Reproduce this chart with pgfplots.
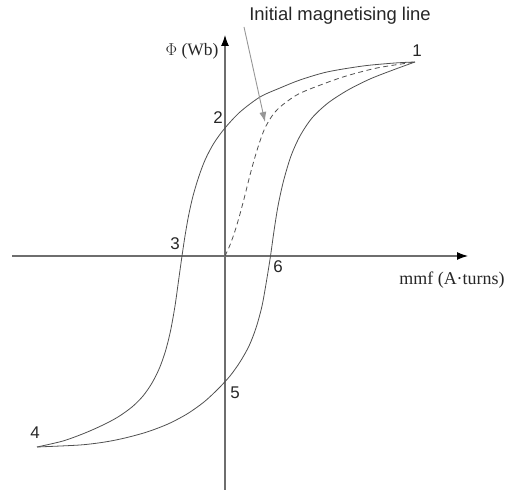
\documentclass[border=0pt]{standalone}
\usepackage{pgfplots}
\pgfplotsset{compat=1.18}
\usepackage{fontspec}
\setmainfont{Liberation Serif}
\newfontfamily\labelfont{Liberation Sans}
\usetikzlibrary{arrows.meta}

\definecolor{axisgray}{RGB}{110,110,110}
\definecolor{curvegray}{RGB}{80,80,80}
\definecolor{notegray}{RGB}{150,150,150}

\begin{document}
\begin{tikzpicture}
\begin{axis}[
  scale only axis,
  width=512bp, height=490bp,
  xmin=-225, xmax=287, ymin=-234, ymax=256,
  hide axis, clip=false,
]
% invisible frame fixing the picture size
\path (rel axis cs:0,0) rectangle (rel axis cs:1,1);

% coordinate axes
\addplot[axisgray, line width=1.1bp, -{Latex[length=11bp,width=8bp,color=black]}]
  coordinates {(-213,0) (243,0)};
\addplot[axisgray, line width=1.1bp, -{Latex[length=11bp,width=8bp,color=black]}]
  coordinates {(0,-234) (0,221)};

% descending branch 1 -> 2 -> 3 -> 4
\addplot[curvegray, line width=0.8bp, smooth, tension=0.5] coordinates {
  (190,194) (170,193) (138,190) (102,184) (75,176) (55,168) (35,159)
  (15,144) (0,128) (-11,113) (-19.5,97) (-26,80) (-32,60) (-36.5,40)
  (-40,20) (-43,0) (-46.5,-25) (-50,-50) (-54.5,-75) (-59.5,-95)
  (-65.5,-112) (-73,-127) (-82,-140) (-93,-151) (-107,-161) (-122,-169)
  (-140,-177) (-162,-185) (-188,-191)
};

% ascending branch 4 -> 5 -> 6 -> 1
\addplot[curvegray, line width=0.8bp, smooth, tension=0.5] coordinates {
  (-188,-191) (-145,-189) (-120,-186) (-100,-182) (-78,-176) (-57,-168)
  (-38,-158) (-21,-146) (-7,-133) (5,-120) (15,-106) (24,-90) (31,-72)
  (37,-50) (41.5,-25) (45.5,0) (49,25) (53,50) (58.5,75) (66,100)
  (75,120) (87,138) (103,153) (123,166) (145,177) (168,186) (190,194)
};

% initial magnetising curve
\addplot[curvegray, line width=0.8bp, dash pattern=on 5bp off 3.5bp, smooth, tension=0.5] coordinates {
  (0,0) (5,11) (10,25) (15,42) (20,61) (25,81) (30,99) (35,115) (40,128)
  (47,140) (55,149) (70,160) (85,167) (118,179) (152,188) (190,194)
};

% annotation pointer
\addplot[notegray, line width=0.9bp, -{Latex[length=10bp,width=7bp]}]
  coordinates {(19,229) (40,134)};

\node[font=\labelfont\fontsize{18.5}{22}\selectfont, text=black!85] at (axis cs:115,240) {Initial magnetising line};
\node[font=\fontsize{17.5}{21}\selectfont, text=black!85] at (axis cs:-33,205) {$\Phi$\ (Wb)};
\node[font=\fontsize{18}{21}\selectfont, text=black!85] at (axis cs:227,-24) {mmf (A·turns)};

\begin{scope}[every node/.style={font=\labelfont\fontsize{17}{20}\selectfont, text=black!85}]
\node at (axis cs:192,205) {1};
\node at (axis cs:-7,138) {2};
\node at (axis cs:-50,12) {3};
\node at (axis cs:-190,-177) {4};
\node at (axis cs:10,-137) {5};
\node at (axis cs:53,-11) {6};
\end{scope}
\end{axis}
\end{tikzpicture}
\end{document}
